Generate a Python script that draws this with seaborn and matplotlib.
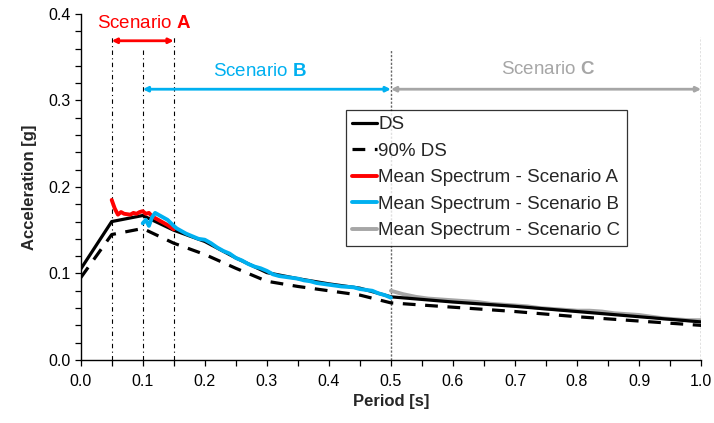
import numpy as np
import pandas as pd
import matplotlib
matplotlib.use("Agg")
import matplotlib.pyplot as plt
from matplotlib.ticker import MultipleLocator
import seaborn as sns

# Design spectrum and 90% design spectrum
ds_period = [0.0, 0.05, 0.10, 0.15, 0.20, 0.25, 0.30, 0.35, 0.40, 0.45, 0.50,
             0.60, 0.70, 0.80, 0.90, 1.00]
ds_acc = [0.105, 0.160, 0.167, 0.150, 0.137, 0.118, 0.101, 0.094, 0.088, 0.083,
          0.073, 0.067, 0.062, 0.056, 0.050, 0.044]
ds90_acc = [0.095, 0.145, 0.152, 0.135, 0.122, 0.106, 0.091, 0.085, 0.080, 0.075,
            0.066, 0.061, 0.056, 0.050, 0.045, 0.040]

# Mean spectra of the record sets
a_period = [0.050, 0.055, 0.060, 0.065, 0.070, 0.080, 0.085, 0.090, 0.095, 0.100,
            0.105, 0.110, 0.115, 0.120, 0.130, 0.140, 0.150]
a_acc = [0.185, 0.175, 0.168, 0.171, 0.169, 0.168, 0.170, 0.169, 0.171, 0.172,
         0.169, 0.170, 0.166, 0.164, 0.160, 0.156, 0.151]

b_period = [0.100, 0.105, 0.110, 0.115, 0.120, 0.125, 0.130, 0.140, 0.150, 0.155,
            0.160, 0.170, 0.180, 0.190, 0.200, 0.210, 0.220, 0.230, 0.240, 0.250,
            0.260, 0.270, 0.280, 0.290, 0.300, 0.310, 0.320, 0.330, 0.340, 0.350,
            0.360, 0.370, 0.380, 0.390, 0.400, 0.420, 0.440, 0.450, 0.460, 0.470,
            0.480, 0.490, 0.500]
b_acc = [0.158, 0.162, 0.155, 0.165, 0.170, 0.168, 0.166, 0.162, 0.155, 0.152,
         0.150, 0.146, 0.143, 0.140, 0.139, 0.135, 0.130, 0.126, 0.123, 0.118,
         0.115, 0.111, 0.108, 0.106, 0.103, 0.099, 0.097, 0.096, 0.095, 0.094,
         0.092, 0.091, 0.089, 0.088, 0.087, 0.085, 0.084, 0.082, 0.081, 0.080,
         0.077, 0.075, 0.072]

c_period = [0.50, 0.52, 0.54, 0.56, 0.58, 0.60, 0.62, 0.64, 0.66, 0.68, 0.70,
            0.72, 0.74, 0.76, 0.78, 0.80, 0.82, 0.84, 0.86, 0.88, 0.90, 0.92,
            0.94, 0.96, 0.98, 1.00]
c_acc = [0.080, 0.076, 0.073, 0.071, 0.070, 0.069, 0.068, 0.067, 0.065, 0.064,
         0.063, 0.062, 0.060, 0.059, 0.058, 0.057, 0.057, 0.056, 0.054, 0.053,
         0.052, 0.050, 0.048, 0.047, 0.046, 0.046]

# Scenario period ranges
scenario_names = ["A", "B", "C"]
scenario_ranges = [(0.05, 0.15), (0.10, 0.50), (0.50, 1.00)]

RED = "#FF0000"
BLUE = "#00B0F0"
GREY = "#A6A6A6"

sns.set_style("ticks")
plt.rcParams["font.family"] = ["Liberation Sans", "DejaVu Sans"]
plt.rcParams["mathtext.fontset"] = "custom"
plt.rcParams["mathtext.rm"] = "Liberation Sans"
plt.rcParams["mathtext.bf"] = "Liberation Sans:bold"

fig = plt.figure(figsize=(7.14, 4.23), dpi=100)
ax = fig.add_axes([0.113, 0.149, 0.869, 0.818])

# vertical guide lines
for x, top in [(0.05, 0.373), (0.10, 0.360), (0.15, 0.373)]:
    ax.plot([x, x], [0, top], color="black", lw=0.8, ls=(0, (4, 3, 1, 3)), zorder=1)
for x, top in [(0.50, 0.358), (1.00, 0.373)]:
    ax.plot([x, x], [0, top], color="#666666", lw=1.0, ls=(0, (1.6, 1.2)), zorder=1)

ds_df = pd.DataFrame({"T": ds_period, "DS": ds_acc, "DS90": ds90_acc})
sns.lineplot(data=ds_df, x="T", y="DS", color="black", lw=2.3, ax=ax, label="DS", zorder=3)
sns.lineplot(data=ds_df, x="T", y="DS90", color="black", lw=2.3, ax=ax,
             label="90% DS", zorder=3)
ax.lines[-1].set_linestyle((0, (4, 3)))
sns.lineplot(x=a_period, y=a_acc, color=RED, lw=2.8, ax=ax,
             label="Mean Spectrum - Scenario A", zorder=4)
sns.lineplot(x=b_period, y=b_acc, color=BLUE, lw=2.8, ax=ax,
             label="Mean Spectrum - Scenario B", zorder=5)
sns.lineplot(x=c_period, y=c_acc, color=GREY, lw=2.8, ax=ax,
             label="Mean Spectrum - Scenario C", zorder=2)

# scenario arrows and labels
arrow_y = [0.369, 0.313, 0.313]
label_pos = [(0.103, 0.389), (0.289, 0.333), (0.753, 0.336)]
colors = [RED, BLUE, GREY]
for name, (x0, x1), ay, (tx, ty), col in zip(scenario_names, scenario_ranges,
                                             arrow_y, label_pos, colors):
    ax.annotate("", xy=(x1, ay), xytext=(x0, ay),
                arrowprops=dict(arrowstyle="<|-|>", color=col, lw=2,
                                mutation_scale=7, shrinkA=0, shrinkB=0))
    ax.text(tx, ty, "Scenario $\\mathbf{" + name + "}$", color=col, fontsize=13.5,
            ha="center", va="center")

ax.set_xlim(0, 1.0)
ax.set_ylim(0, 0.4)
ax.xaxis.set_major_locator(MultipleLocator(0.1))
ax.xaxis.set_minor_locator(MultipleLocator(0.05))
ax.yaxis.set_major_locator(MultipleLocator(0.1))
ax.yaxis.set_minor_locator(MultipleLocator(0.02))
ax.xaxis.set_major_formatter(lambda v, p: f"{v:.1f}")
ax.yaxis.set_major_formatter(lambda v, p: f"{v:.1f}")
ax.tick_params(which="both", direction="out", length=4, width=0.9, color="black",
               labelsize=11.5, labelcolor="black")
ax.tick_params(axis="x", pad=6)
sns.despine(ax=ax)
for s in ["left", "bottom"]:
    ax.spines[s].set_color("black")
    ax.spines[s].set_linewidth(1)

ax.set_xlabel("Period [s]", fontsize=12, fontweight="bold", labelpad=4)
ax.set_ylabel("Acceleration [g]", fontsize=12, fontweight="bold", labelpad=8)

leg = ax.legend(loc="upper left", bbox_to_anchor=(0.427, 0.723), borderaxespad=0,
                fontsize=13.5, frameon=True, fancybox=False, edgecolor="black",
                handlelength=1.3, handletextpad=0.1, labelspacing=0.5,
                borderpad=0.35)
leg.get_frame().set_linewidth(0.9)

fig.savefig("out.png", dpi=100)
